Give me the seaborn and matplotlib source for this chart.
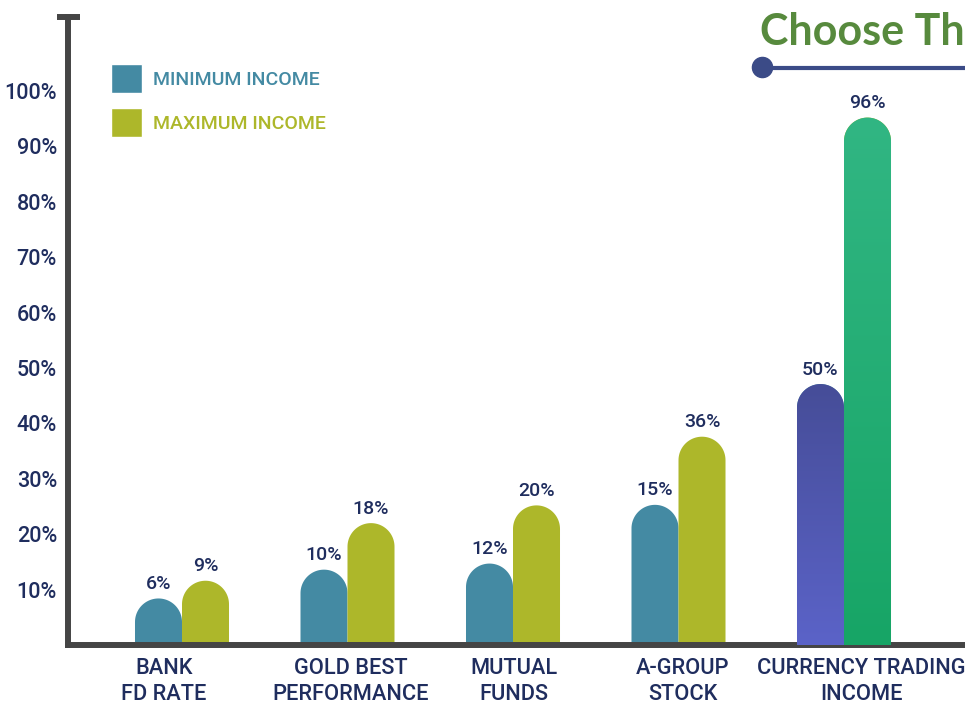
import numpy as np
import pandas as pd
import matplotlib
matplotlib.use("Agg")
import matplotlib.pyplot as plt
from matplotlib.patches import Polygon, Patch
from matplotlib.colors import LinearSegmentedColormap
from matplotlib.lines import Line2D
from matplotlib.transforms import ScaledTranslation
import seaborn as sns

# datos
categories = ["BANK\nFD RATE", "GOLD BEST\nPERFORMANCE", "MUTUAL\nFUNDS",
              "A-GROUP\nSTOCK", "CURRENCY TRADING\nINCOME"]
series = ["MINIMUM INCOME", "MAXIMUM INCOME"]
# alturas tal como se dibujan (el dibujo no va a escala con sus etiquetas)
min_height = [8.4, 13.6, 14.7, 25.3, 47.1]
max_height = [11.6, 22.0, 25.2, 37.6, 95.2]
min_label = ["6%", "10%", "12%", "15%", "50%"]
max_label = ["9%", "18%", "20%", "36%", "96%"]
yticks = [10, 20, 30, 40, 50, 60, 70, 80, 90, 100]

teal, olive, navy = "#448aa3", "#adb72a", "#1f2d5e"
axis_col = "#454545"

df = pd.DataFrame({
    "category": categories * 2,
    "value": min_height + max_height,
    "series": [series[0]] * 5 + [series[1]] * 5,
})

sns.set_style("white")
plt.rcParams["font.family"] = ["Roboto", "DejaVu Sans"]

W, H = 965, 704
fig = plt.figure(figsize=(W / 100, H / 100), dpi=100)
ax = fig.add_axes([68 / W, (H - 645) / H, 1 - 68 / W, (645 - 17) / H])

sns.barplot(data=df, x="category", y="value", hue="series", palette=[teal, olive],
            width=0.568, saturation=1, ax=ax, legend=False)

xlim = ((68 - 182) / 165.5, (965 - 182) / 165.5)
ylim = (0, (645 - 17) / 5.54)
ax.set_xlim(xlim)
ax.set_ylim(ylim)

# pixeles por unidad de datos, para que la punta sea un semicirculo
px_x = (W - 68) / (xlim[1] - xlim[0])
px_y = (645 - 17) / (ylim[1] - ylim[0])

grad = {0: ("#5b63c8", "#464d98"), 1: ("#17a566", "#31b683")}

bars = list(ax.patches)
for p in bars:
    x0, w, h = p.get_x(), p.get_width(), p.get_height()
    col = p.get_facecolor()
    p.remove()
    cx = x0 + w / 2
    idx = int(round(cx))
    side = 0 if cx < idx else 1
    rx = w / 2
    ry = rx * px_x / px_y
    t = np.linspace(0, np.pi, 60)
    arc = np.column_stack([cx + rx * np.cos(t), h - ry + ry * np.sin(t)])
    pts = np.vstack([[x0 + w, 0], arc, [x0, 0]])
    poly = Polygon(pts, closed=True, facecolor=col, edgecolor="none", zorder=2)
    ax.add_patch(poly)
    if idx == 4:
        cm = LinearSegmentedColormap.from_list("g", list(grad[side]))
        im = ax.imshow(np.linspace(0, 1, 256).reshape(-1, 1), extent=[x0, x0 + w, 0, h],
                       origin="lower", aspect="auto", cmap=cm, zorder=3)
        im.set_clip_path(poly)
    lab = min_label[idx] if side == 0 else max_label[idx]
    ax.annotate(lab, (cx, h), xytext=(0, 4), textcoords="offset points",
                ha="center", va="bottom", fontsize=14, color=navy, fontweight="medium")

ax.set_xlim(xlim)
ax.set_ylim(ylim)
ax.set_xlabel("")
ax.set_ylabel("")
ax.set_yticks(yticks)
ax.set_yticklabels([f"{v}%" for v in yticks])
ax.tick_params(axis="y", length=0, pad=8, labelsize=15.5, labelcolor=navy)
ax.tick_params(axis="x", length=0, pad=9, labelsize=15.7, labelcolor=navy)
# los rotulos de categoria no estan del todo centrados en el original
shift_px = [-18, 3, 1, 4, 17]
for tl, dx in zip(ax.get_xticklabels(), shift_px):
    tl.set_linespacing(1.35)
    tl.set_fontweight("medium")
    tl.set_transform(tl.get_transform() + ScaledTranslation(dx / 100, 0, fig.dpi_scale_trans))
for tl in ax.get_yticklabels():
    tl.set_fontweight("medium")

for s in ["top", "right"]:
    ax.spines[s].set_visible(False)
for s in ["left", "bottom"]:
    ax.spines[s].set_linewidth(4.3)
    ax.spines[s].set_color(axis_col)

# remate en T del eje y
fig.add_artist(Line2D([57 / W, 80 / W], [1 - 17 / H] * 2, lw=4.3, color=axis_col,
                      solid_capstyle="butt"))

# leyenda
handles = [Patch(facecolor=teal), Patch(facecolor=olive)]
leg = ax.legend(handles, series, loc="upper left", bbox_to_anchor=(111 / W, 1 - 64 / H),
                bbox_transform=fig.transFigure, frameon=False, fontsize=14,
                handlelength=1.6, handleheight=1.95, handletextpad=0.55,
                labelspacing=0.75, borderpad=0, borderaxespad=0)
for txt, c in zip(leg.get_texts(), [teal, olive]):
    txt.set_color(c)
    txt.set_fontweight("medium")

# titulo (cortado en el original)
fig.text(760 / W, 1 - 45 / H, "Choose Th", fontsize=31, fontweight="bold",
         family=["Lato", "DejaVu Sans"], color="#578a3d", ha="left", va="baseline")
fig.add_artist(Line2D([762 / W, 1.0], [1 - 68 / H] * 2, lw=3, color="#3b4b87"))
fig.add_artist(Line2D([762 / W], [1 - 67 / H], marker="o", markersize=14.5,
                      color="#3b4b87", lw=0))

fig.savefig("out.png", dpi=100)
